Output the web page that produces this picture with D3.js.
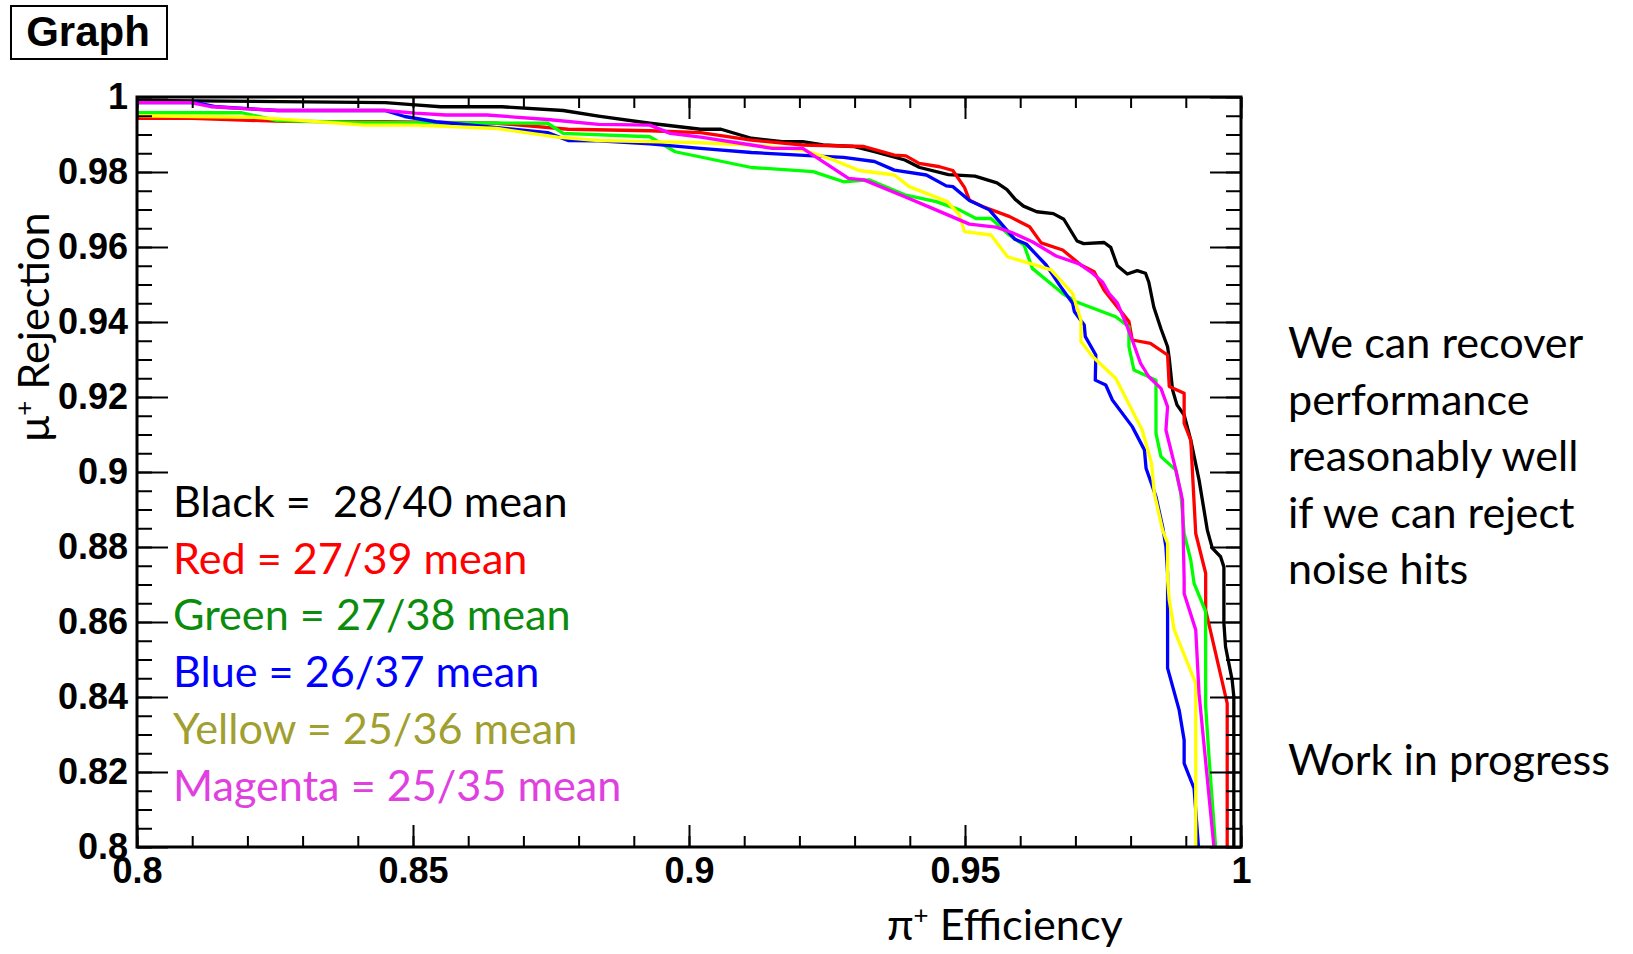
<!DOCTYPE html>
<html>
<head>
<meta charset="utf-8">
<script src="https://cdnjs.cloudflare.com/ajax/libs/d3/7.8.5/d3.min.js"></script>
<style>
  html, body { margin: 0; padding: 0; background: #fff; }
  svg { display: block; }
</style>
</head>
<body>
<svg id="chart" width="1633" height="954"></svg>
<script>
// tick values of the ROOT frame
var xTicks = [0.8, 0.85, 0.9, 0.95, 1];
var yTicks = [0.8, 0.82, 0.84, 0.86, 0.88, 0.9, 0.92, 0.94, 0.96, 0.98, 1];

// [pi+ efficiency, mu+ rejection]
var blackPts = [[0.800,0.9991],[0.845,0.9985],[0.8504,0.9979],[0.855,0.9974],[0.8661,0.9974],[0.8772,0.9964],[0.8836,0.9949],[0.8929,0.9930],[0.9021,0.9914],[0.9058,0.9914],[0.9113,0.9890],[0.9169,0.9881],[0.9206,0.9881],[0.9243,0.9872],[0.9298,0.9868],[0.9336,0.9854],[0.9391,0.9832],[0.9418,0.9812],[0.947,0.9793],[0.9518,0.9789],[0.9558,0.9771],[0.9576,0.9753],[0.9591,0.9727],[0.9606,0.9709],[0.963,0.9694],[0.966,0.9689],[0.9679,0.9674],[0.9703,0.9616],[0.9715,0.9609],[0.9752,0.9612],[0.9764,0.9599],[0.9776,0.9550],[0.9794,0.9528],[0.9812,0.9537],[0.9827,0.9530],[0.9833,0.9506],[0.9842,0.9440],[0.9855,0.9382],[0.9867,0.9334],[0.9870,0.9303],[0.9876,0.9219],[0.9884,0.9179],[0.9897,0.9152],[0.9909,0.9085],[0.9924,0.8979],[0.9939,0.8845],[0.9948,0.8797],[0.9963,0.8774],[0.9969,0.8747],[0.9969,0.8597],[0.9972,0.8534],[0.9984,0.8445],[0.9987,0.8401],[0.9987,0.800]];
var redPts = [[0.800,0.9943],[0.810,0.9943],[0.8264,0.9935],[0.8449,0.9934],[0.8652,0.9930],[0.8781,0.9914],[0.8929,0.9910],[0.9021,0.9905],[0.9113,0.9885],[0.9206,0.9872],[0.9317,0.9868],[0.9372,0.9845],[0.9393,0.9843],[0.9417,0.9823],[0.9454,0.9814],[0.9478,0.9804],[0.9499,0.9759],[0.9508,0.9725],[0.9532,0.9708],[0.9581,0.9681],[0.9617,0.9654],[0.9638,0.9611],[0.9677,0.9592],[0.9710,0.9552],[0.9734,0.9534],[0.9752,0.9485],[0.9797,0.9401],[0.9803,0.9352],[0.9836,0.9343],[0.9867,0.9312],[0.9870,0.9228],[0.9897,0.9210],[0.9897,0.9130],[0.9909,0.9085],[0.9918,0.8836],[0.9936,0.8730],[0.9936,0.8632],[0.9975,0.8383],[0.9975,0.800]];
var greenPts = [[0.800,0.9958],[0.819,0.9958],[0.8255,0.9937],[0.8403,0.9932],[0.8744,0.9930],[0.8772,0.9903],[0.8929,0.9894],[0.8975,0.9854],[0.9113,0.9812],[0.9225,0.9801],[0.928,0.9774],[0.9326,0.9779],[0.9391,0.9739],[0.9448,0.9721],[0.949,0.9699],[0.952,0.9676],[0.9547,0.9676],[0.958,0.9632],[0.9607,0.9605],[0.9622,0.9543],[0.9677,0.9476],[0.9701,0.9454],[0.9773,0.9414],[0.9797,0.9387],[0.9797,0.9334],[0.9806,0.9272],[0.9846,0.9245],[0.9846,0.9103],[0.9855,0.9041],[0.9882,0.9005],[0.9891,0.8943],[0.9897,0.8836],[0.9909,0.8765],[0.9915,0.8703],[0.9936,0.8628],[0.9936,0.8375],[0.9942,0.8241],[0.9954,0.800]];
var bluePts = [[0.800,0.9985],[0.8107,0.9985],[0.8144,0.9974],[0.8255,0.9964],[0.8449,0.9964],[0.8485,0.9948],[0.8541,0.9934],[0.8634,0.9921],[0.8744,0.9905],[0.8781,0.9884],[0.8836,0.9883],[0.8929,0.9875],[0.9021,0.9863],[0.9113,0.9852],[0.9225,0.9843],[0.928,0.9839],[0.9336,0.9828],[0.9372,0.9805],[0.943,0.9792],[0.9466,0.9763],[0.9478,0.9761],[0.9508,0.9724],[0.9544,0.9699],[0.959,0.9621],[0.9611,0.9608],[0.9647,0.9552],[0.9671,0.9499],[0.9695,0.945],[0.9698,0.9428],[0.9716,0.9392],[0.9718,0.9361],[0.9737,0.9312],[0.9736,0.9245],[0.9755,0.9232],[0.9767,0.9192],[0.9803,0.9121],[0.9825,0.9059],[0.9828,0.9010],[0.9846,0.8934],[0.9858,0.8854],[0.9864,0.8801],[0.9867,0.8730],[0.9867,0.8477],[0.9888,0.8365],[0.9897,0.8285],[0.9897,0.8223],[0.9915,0.8156],[0.9923,0.800]];
var yellowPts = [[0.800,0.9950],[0.821,0.9946],[0.8282,0.9939],[0.8412,0.9925],[0.8504,0.9925],[0.8652,0.9916],[0.8762,0.9893],[0.8836,0.9884],[0.8929,0.9881],[0.9021,0.9878],[0.9113,0.9872],[0.9206,0.9859],[0.9262,0.9832],[0.9308,0.9804],[0.9372,0.9792],[0.9399,0.9761],[0.9468,0.9721],[0.949,0.9685],[0.9499,0.9641],[0.9547,0.9632],[0.9577,0.9574],[0.9656,0.9539],[0.9695,0.9476],[0.971,0.9405],[0.971,0.9348],[0.9731,0.9308],[0.9773,0.9250],[0.9821,0.9112],[0.9838,0.9023],[0.9843,0.8943],[0.9858,0.8845],[0.9867,0.881],[0.9867,0.8712],[0.987,0.8659],[0.9879,0.8579],[0.9918,0.8436],[0.9918,0.800]];
var magentaPts = [[0.800,0.9985],[0.8098,0.9985],[0.8134,0.9974],[0.8255,0.9964],[0.8449,0.9964],[0.8504,0.9957],[0.8559,0.9952],[0.8634,0.9952],[0.8744,0.9940],[0.8836,0.9927],[0.8929,0.9925],[0.8966,0.9903],[0.9021,0.9893],[0.9113,0.9872],[0.9151,0.9863],[0.9206,0.9863],[0.9289,0.9783],[0.9317,0.9779],[0.9391,0.9734],[0.9441,0.9703],[0.9508,0.9661],[0.9556,0.9653],[0.9586,0.9638],[0.9622,0.9614],[0.9665,0.9576],[0.9707,0.9555],[0.9731,0.9530],[0.9749,0.9507],[0.9761,0.9476],[0.9776,0.9451],[0.9794,0.9387],[0.9803,0.9352],[0.9818,0.9290],[0.9833,0.9254],[0.9855,0.9223],[0.9867,0.9174],[0.9864,0.9112],[0.9882,0.9005],[0.9894,0.8925],[0.9897,0.8712],[0.9897,0.8676],[0.9918,0.8579],[0.9924,0.8409],[0.9951,0.800]];

var legendLabels = ["Black =  28/40 mean", "Red = 27/39 mean", "Green = 27/38 mean",
  "Blue = 26/37 mean", "Yellow = 25/36 mean", "Magenta = 25/35 mean"];
var noteLines = ["We can recover", "performance", "reasonably well", "if we can reject", "noise hits"];
var noteFooter = "Work in progress";

var series = [
  { pts: blackPts, line: "#000000", text: "#000000" },
  { pts: redPts, line: "#ff0000", text: "#ff0000" },
  { pts: greenPts, line: "#00ff00", text: "#0c8c0c" },
  { pts: bluePts, line: "#0000ff", text: "#0000ff" },
  { pts: yellowPts, line: "#ffff00", text: "#a09f30" },
  { pts: magentaPts, line: "#ff00ff", text: "#e040e0" }
];

var svg = d3.select("#chart");
var frame = { left: 137, right: 1241, top: 97, bottom: 847 };
var x = d3.scaleLinear().domain([0.8, 1]).range([frame.left, frame.right]);
var y = d3.scaleLinear().domain([0.8, 1]).range([frame.bottom, frame.top]);
var fmt = function(d) { return String(+d.toFixed(2)); };
var tickFont = "'Liberation Sans', Arial, Helvetica, sans-serif";
var textFont = "Lato, 'Open Sans', sans-serif";

svg.append("rect").attr("width", 1633).attr("height", 954).attr("fill", "#fff");

// title pave
svg.append("rect")
  .attr("x", 11).attr("y", 6).attr("width", 156).attr("height", 53)
  .attr("fill", "#fff").attr("stroke", "#000").attr("stroke-width", 2);
svg.append("text")
  .attr("x", 88).attr("y", 46)
  .attr("text-anchor", "middle")
  .style("font-family", tickFont).style("font-weight", "bold").style("font-size", "42px")
  .text("Graph");

svg.append("clipPath").attr("id", "clip-frame")
  .append("rect")
  .attr("x", frame.left).attr("y", frame.top)
  .attr("width", frame.right - frame.left).attr("height", frame.bottom - frame.top);

// curves
var line = d3.line().x(function(d) { return x(d[0]); }).y(function(d) { return y(d[1]); });
svg.append("g").attr("clip-path", "url(#clip-frame)")
  .selectAll("path")
  .data(series)
  .enter()
  .append("path")
  .attr("d", function(s) { return line(s.pts); })
  .attr("fill", "none")
  .attr("stroke", function(s) { return s.line; })
  .attr("stroke-width", 3.3)
  .attr("stroke-linejoin", "round");

// axes, ticks pointing into the frame like ROOT
function styleAxis(g) {
  g.select(".domain").remove();
  g.selectAll("line").attr("stroke", "#000").attr("stroke-width", 2);
  g.selectAll("text")
    .attr("fill", "#000")
    .style("font-family", tickFont).style("font-weight", "bold").style("font-size", "36px");
}
var xMinor = d3.range(0.8, 1.0001, 0.01);
var yMinor = d3.range(0.8, 1.0001, 0.005);

svg.append("g").attr("transform", "translate(0," + frame.bottom + ")")
  .call(d3.axisBottom(x).tickValues(xMinor).tickSize(-11).tickFormat(""))
  .call(styleAxis);
svg.append("g").attr("transform", "translate(0," + frame.bottom + ")")
  .call(d3.axisBottom(x).tickValues(xTicks).tickSize(-22).tickPadding(10).tickFormat(fmt))
  .call(styleAxis);
svg.append("g").attr("transform", "translate(0," + frame.top + ")")
  .call(d3.axisTop(x).tickValues(xMinor).tickSize(-11).tickFormat(""))
  .call(styleAxis);
svg.append("g").attr("transform", "translate(0," + frame.top + ")")
  .call(d3.axisTop(x).tickValues(xTicks).tickSize(-22).tickFormat(""))
  .call(styleAxis);

svg.append("g").attr("transform", "translate(" + frame.left + ",0)")
  .call(d3.axisLeft(y).tickValues(yMinor).tickSize(-15).tickFormat(""))
  .call(styleAxis);
svg.append("g").attr("transform", "translate(" + frame.left + ",0)")
  .call(d3.axisLeft(y).tickValues(yTicks).tickSize(-31).tickPadding(9).tickFormat(fmt))
  .call(styleAxis);
svg.append("g").attr("transform", "translate(" + frame.right + ",0)")
  .call(d3.axisRight(y).tickValues(yMinor).tickSize(-15).tickFormat(""))
  .call(styleAxis);
svg.append("g").attr("transform", "translate(" + frame.right + ",0)")
  .call(d3.axisRight(y).tickValues(yTicks).tickSize(-31).tickFormat(""))
  .call(styleAxis);

svg.append("rect")
  .attr("x", frame.left).attr("y", frame.top)
  .attr("width", frame.right - frame.left).attr("height", frame.bottom - frame.top)
  .attr("fill", "none").attr("stroke", "#000").attr("stroke-width", 3);

// size the slide font so that the footer is as wide as in the picture
var probe = svg.append("text").style("font-family", textFont).style("font-size", "100px").text(noteFooter);
var textSize = 100 * 322 / probe.node().getComputedTextLength();
probe.remove();

// axis titles
var yTitle = svg.append("text")
  .attr("transform", "translate(49,327) rotate(-90)")
  .attr("text-anchor", "middle")
  .style("font-family", textFont).style("font-size", textSize + "px");
yTitle.append("tspan").text("μ");
yTitle.append("tspan").attr("dy", -textSize * 0.38).style("font-size", textSize * 0.6 + "px").text("+");
yTitle.append("tspan").attr("dy", textSize * 0.38).text(" Rejection");

var xTitle = svg.append("text")
  .attr("x", 887).attr("y", 940)
  .style("font-family", textFont).style("font-size", textSize + "px");
xTitle.append("tspan").text("π");
xTitle.append("tspan").attr("dy", -textSize * 0.38).style("font-size", textSize * 0.6 + "px").text("+");
xTitle.append("tspan").attr("dy", textSize * 0.38).text(" Efficiency");

// legend lines written in the pad
svg.append("g")
  .selectAll("text")
  .data(legendLabels)
  .enter()
  .append("text")
  .attr("x", 173)
  .attr("y", function(d, i) { return 517 + i * 56.7; })
  .attr("fill", function(d, i) { return series[i].text; })
  .style("font-family", textFont).style("font-size", textSize + "px")
  .style("white-space", "pre")
  .text(function(d) { return d; });

// side notes
svg.append("g")
  .selectAll("text")
  .data(noteLines)
  .enter()
  .append("text")
  .attr("x", 1288)
  .attr("y", function(d, i) { return 358 + i * 56.5; })
  .style("font-family", textFont).style("font-size", textSize + "px")
  .text(function(d) { return d; });
svg.append("text")
  .attr("x", 1288).attr("y", 775)
  .style("font-family", textFont).style("font-size", textSize + "px")
  .text(noteFooter);
</script>
</body>
</html>
